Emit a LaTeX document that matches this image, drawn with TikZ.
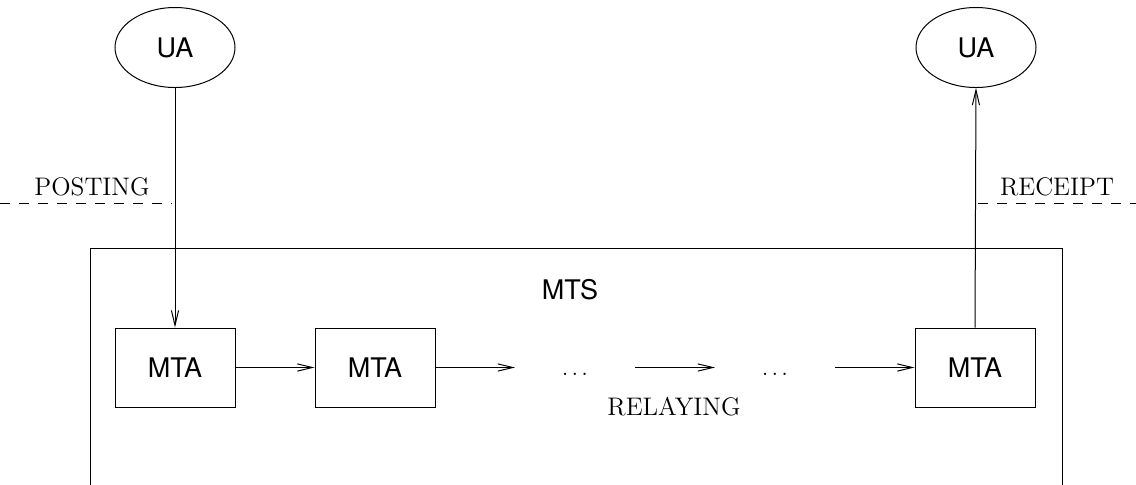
\documentclass[tikz,border=0pt]{standalone}
\usepackage{fontspec}
\newfontfamily\helv{TeX Gyre Heros}
\usetikzlibrary{arrows.meta,shapes.geometric}
\begin{document}
\begin{tikzpicture}[x=0.5pt,y=-0.5pt,line width=0.5pt,
  agent/.style={draw,ellipse,minimum width=60pt,minimum height=40pt,inner sep=0pt,
    font=\helv\fontsize{13.5}{16}\selectfont},
  mta/.style={draw,rectangle,minimum width=60pt,minimum height=39.5pt,inner sep=0pt,
    font=\helv\fontsize{13.5}{16}\selectfont},
  lbl/.style={inner sep=0pt,font=\fontsize{12.7}{15}\selectfont},
  flow/.style={-{Straight Barb[length=7.5pt,width=3.6pt]}},
  boundary/.style={dash pattern=on 5pt off 4.5pt}]
\useasboundingbox (0,0) rectangle (1136,484);
% user agents
\node[agent] (uaL) at (175,47.5) {UA};
\node[agent] (uaR) at (976,47.5) {UA};
% message transfer system
\draw (90,490) -- (90,248) -- (1062,248) -- (1062,490);
\node[inner sep=0pt,font=\helv\fontsize{13.5}{16}\selectfont] (mts) at (570,290) {MTS};
% transfer agents
\node[mta] (m1) at (175,367.5) {MTA};
\node[mta] (m2) at (375,367.5) {MTA};
\node[mta] (m3) at (975,367.5) {MTA};
\node[inner sep=0pt,font=\fontsize{11}{13}\selectfont] (d1) at (575,374) {$\ldots$};
\node[inner sep=0pt,font=\fontsize{11}{13}\selectfont] (d2) at (775,374) {$\ldots$};
\coordinate (a1) at (515,367.5);
\coordinate (b2s) at (635,367.5);
\coordinate (b2e) at (715,367.5);
\coordinate (b3) at (835,367.5);
\node[lbl] (relay) at (674,407) {RELAYING};
% posting and receipt boundaries
\node[lbl] (post) at (92,187) {POSTING};
\node[lbl] (rec) at (1057,187) {RECEIPT};
\coordinate (pl) at (0,203);
\coordinate (pr) at (172,203);
\coordinate (rl) at (978,203);
\coordinate (rr) at (1136,203);
\draw[boundary] (pl) -- (pr);
\draw[boundary] (rl) -- (rr);
% connectors
\draw[flow] (uaL) -- (m1);
\draw[flow] (m3.north) -- (uaR.south);
\draw[flow] (m1) -- (m2);
\draw[flow] (m2) -- (a1);
\draw[flow] (b2s) -- (b2e);
\draw[flow] (b3) -- (m3);
\end{tikzpicture}
\end{document}
